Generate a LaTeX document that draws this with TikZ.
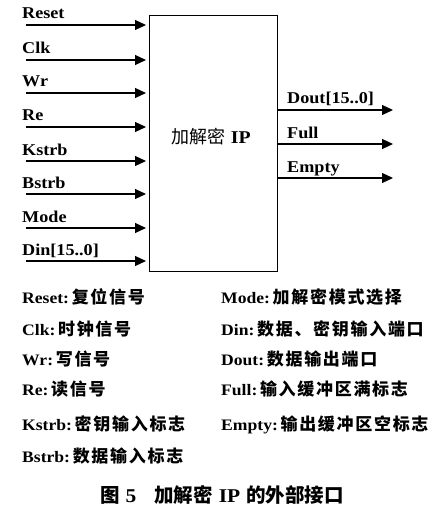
\documentclass[tikz,border=0pt]{standalone}
\usepackage{fontspec}
\usetikzlibrary{arrows.meta}
\newfontfamily\lat[FakeStretch=1.1]{Liberation Serif}
\newfontfamily\cjk{Noto Sans CJK SC}
\newfontfamily\cjkls[LetterSpace=10]{Noto Sans CJK SC}
\newcommand{\legitem}[2]{{\lat\bfseries #1:}\,{\cjkls\bfseries\fontsize{17}{18}\selectfont #2}}
\begin{document}
\begin{tikzpicture}[x=1pt,y=-1pt,
  sig/.style={line width=1.1pt,-{Triangle[length=11pt,width=10pt]}},
  lab/.style={font=\lat\bfseries\fontsize{16.5}{18}\selectfont,inner sep=0,anchor=base west},
  leg/.style={font=\fontsize{16}{18}\selectfont,inner sep=0,anchor=base west}]
\useasboundingbox[fill=white] (0,0) rectangle (442,516);
\node[draw,line width=1pt,minimum width=128pt,minimum height=255pt,anchor=north west,inner sep=0] (ip) at (149,15.5) {};
\node[font=\fontsize{18}{20}\selectfont,inner sep=0] (iplab) at (211,137) {{\cjk 加解密} {\lat\bfseries IP}};
% inputs
\foreach \n/\t/\y in {a/Reset/25,b/Clk/60,c/Wr/93,d/Re/127,e/Kstrb/161,f/Bstrb/194,g/Mode/228,h/Din[15..0]/261}{
  \coordinate (s\n) at (26,\y);
  \node[lab] (l\n) at (22,\y-6) {\t};
  \draw[sig] (s\n) -- ([xshift=-3pt]ip.west |- s\n);
}
% outputs
\foreach \n/\t/\y in {p/Dout[15..0]/110,q/Full/144,r/Empty/178}{
  \coordinate (e\n) at (393,\y);
  \node[lab] (o\n) at (287,\y-6) {\t};
  \draw[sig] (ip.east |- e\n) -- (e\n);
}
% legend
\node[leg] (k1) at (22,303) {\legitem{Reset}{复位信号}};
\node[leg] (k2) at (22,335) {\legitem{Clk}{时钟信号}};
\node[leg] (k3) at (22,365) {\legitem{Wr}{写信号}};
\node[leg] (k4) at (22,395) {\legitem{Re}{读信号}};
\node[leg] (k5) at (22,430) {\legitem{Kstrb}{密钥输入标志}};
\node[leg] (k6) at (22,462) {\legitem{Bstrb}{数据输入标志}};
\node[leg] (m1) at (221,303) {\legitem{Mode}{加解密模式选择}};
\node[leg] (m2) at (221,335) {\legitem{Din}{数据、密钥输入端口}};
\node[leg] (m3) at (221,365) {\legitem{Dout}{数据输出端口}};
\node[leg] (m4) at (221,395) {\legitem{Full}{输入缓冲区满标志}};
\node[leg] (m5) at (221,430) {\legitem{Empty}{输出缓冲区空标志}};
\node[font=\fontsize{19.5}{21}\selectfont,inner sep=0,anchor=base] (cap) at (222,502)
  {{\cjk\bfseries 图} {\lat\bfseries 5}\hspace{18pt}{\cjk\bfseries 加解密} {\lat\bfseries IP} {\cjk\bfseries 的外部接口}};
\end{tikzpicture}
\end{document}
